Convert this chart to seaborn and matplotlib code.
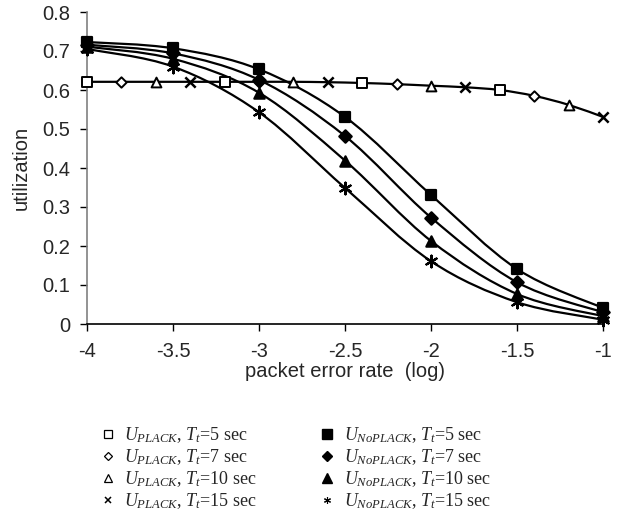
import numpy as np
import pandas as pd
import matplotlib
matplotlib.use("Agg")
import matplotlib.pyplot as plt
from matplotlib.path import Path
from matplotlib.patches import PathPatch
from matplotlib.lines import Line2D
import seaborn as sns

# packet error rate (log10) for the NoPLACK curves
per_log = [-4, -3.5, -3, -2.5, -2, -1.5, -1]
noplack_5 = [0.723, 0.707, 0.653, 0.531, 0.331, 0.141, 0.041]
noplack_7 = [0.716, 0.694, 0.626, 0.482, 0.273, 0.107, 0.030]
noplack_10 = [0.711, 0.680, 0.593, 0.419, 0.213, 0.077, 0.020]
noplack_15 = [0.705, 0.660, 0.543, 0.349, 0.161, 0.056, 0.011]

# PLACK utilization is the same curve for every T_t
plack_per_log = [-4.0, -3.8, -3.6, -3.4, -3.2, -3.0, -2.8, -2.6,
                 -2.4, -2.2, -2.0, -1.8, -1.6, -1.4, -1.2, -1.0]
plack_util = [0.621, 0.621, 0.621, 0.621, 0.621, 0.621, 0.621, 0.620,
              0.618, 0.615, 0.611, 0.607, 0.600, 0.585, 0.562, 0.531]

timeouts = [5, 7, 10, 15]

plack_markers = ["s", "D", "^", "x"]
noplack_markers = ["s", "D", "^", (6, 2, 0)]
noplack_sizes = [55, 40, 55, 70]
plack_sizes = [45, 28, 50, 55]


def smooth_path(x, y, tension=1 / 6):
    """Excel-like smoothed line through the points (cubic bezier segments)."""
    pts = np.column_stack([x, y]).astype(float)
    verts = [pts[0]]
    codes = [Path.MOVETO]
    n = len(pts)
    for i in range(n - 1):
        p0 = pts[max(i - 1, 0)]
        p1, p2 = pts[i], pts[i + 1]
        p3 = pts[min(i + 2, n - 1)]
        verts += [p1 + (p2 - p0) * tension, p2 - (p3 - p1) * tension, p2]
        codes += [Path.CURVE4] * 3
    return Path(verts, codes)


sns.set_style("ticks")
plt.rcParams["font.family"] = ["Liberation Sans", "DejaVu Sans"]
plt.rcParams["axes.unicode_minus"] = False
plt.rcParams["mathtext.fontset"] = "custom"
plt.rcParams["mathtext.rm"] = "Liberation Serif"
plt.rcParams["mathtext.it"] = "Liberation Serif:italic"

fig = plt.figure(figsize=(6.26, 5.2), dpi=100)
ax = fig.add_axes([87 / 626, 1 - 324 / 520, 516 / 626, 312 / 520])

noplack = pd.DataFrame({
    "per": per_log * 4,
    "util": noplack_5 + noplack_7 + noplack_10 + noplack_15,
    "Tt": np.repeat(timeouts, len(per_log)),
})
plack = pd.DataFrame({"per": plack_per_log, "util": plack_util})

# lines
ax.add_patch(PathPatch(smooth_path(plack["per"], plack["util"]), fill=False,
                       lw=1.6, ec="black", zorder=2, clip_on=False))
for tt in timeouts:
    sub = noplack[noplack["Tt"] == tt]
    ax.add_patch(PathPatch(smooth_path(sub["per"], sub["util"]), fill=False,
                           lw=1.6, ec="black", zorder=2, clip_on=False))

# PLACK markers: each T_t series sits on every 4th point of the shared curve
for i, tt in enumerate(timeouts):
    sub = plack.iloc[i::4]
    if plack_markers[i] == "x":
        sns.scatterplot(data=sub, x="per", y="util", marker="x", s=plack_sizes[i],
                        color="black", linewidth=1.8, ax=ax, zorder=4, clip_on=False)
    else:
        sns.scatterplot(data=sub, x="per", y="util", marker=plack_markers[i],
                        s=plack_sizes[i], facecolor="white", edgecolor="black",
                        linewidth=1.4, ax=ax, zorder=4, clip_on=False)

for i, tt in enumerate(timeouts):
    sub = noplack[noplack["Tt"] == tt]
    sns.scatterplot(data=sub, x="per", y="util", marker=noplack_markers[i],
                    s=noplack_sizes[i], color="black", edgecolor="black",
                    linewidth=1.6, ax=ax, zorder=4, clip_on=False)

ax.set_xlim(-4, -1)
ax.set_ylim(0, 0.8)
ax.set_xticks(np.arange(-4, -0.9, 0.5))
ax.set_xticklabels(["-4", "-3.5", "-3", "-2.5", "-2", "-1.5", "-1"])
ax.set_yticks(np.arange(0, 0.81, 0.1))
ax.set_yticklabels(["0", "0.1", "0.2", "0.3", "0.4", "0.5", "0.6", "0.7", "0.8"])
ax.tick_params(labelsize=14.5, length=5, width=1, color="black")
ax.tick_params(axis="y", pad=7)
ax.tick_params(axis="x", pad=8)
ax.set_xlabel("packet error rate  (log)", fontsize=14.5, labelpad=1)
ax.set_ylabel("utilization", fontsize=14.5, labelpad=8)
sns.despine(ax=ax)
ax.spines["left"].set_color("#808080")
ax.spines["left"].set_linewidth(1.2)
ax.spines["bottom"].set_color("black")
ax.spines["bottom"].set_linewidth(1.2)

legend_font = {"family": "Liberation Serif", "size": 13}
left_handles = [
    Line2D([], [], ls="none", marker="s", ms=5.5, mfc="white", mec="black", mew=0.9),
    Line2D([], [], ls="none", marker="D", ms=4.5, mfc="white", mec="black", mew=0.9),
    Line2D([], [], ls="none", marker="^", ms=6, mfc="white", mec="black", mew=0.9),
    Line2D([], [], ls="none", marker="x", ms=5, color="black", mew=1.1),
]
right_handles = [
    Line2D([], [], ls="none", marker="s", ms=7, color="black"),
    Line2D([], [], ls="none", marker="D", ms=5, color="black"),
    Line2D([], [], ls="none", marker="^", ms=7, color="black"),
    Line2D([], [], ls="none", marker=(6, 2, 0), ms=5, color="black", mew=0.8),
]
left_labels = [rf"$U_{{PLACK}}$, $T_t$=${tt}$ sec" for tt in timeouts]
right_labels = [rf"$U_{{NoPLACK}}$, $T_t$=${tt}$ sec" for tt in timeouts]

fig.legend(left_handles, left_labels, loc="upper left",
           bbox_to_anchor=(92 / 626, 1 - 416 / 520), frameon=False, prop=legend_font,
           handlelength=0.8, handletextpad=0.5, labelspacing=0.12, borderpad=0)
fig.legend(right_handles, right_labels, loc="upper left",
           bbox_to_anchor=(311 / 626, 1 - 416 / 520), frameon=False, prop=legend_font,
           handlelength=0.8, handletextpad=0.5, labelspacing=0.12, borderpad=0)

fig.savefig("out.png", dpi=100)
